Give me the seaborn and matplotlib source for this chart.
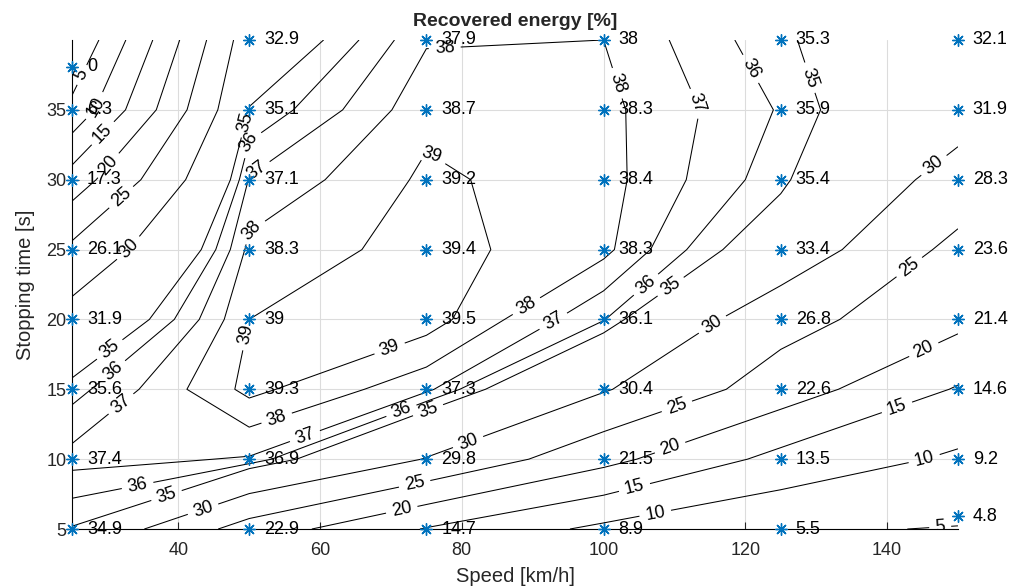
import numpy as np
import pandas as pd
import matplotlib
matplotlib.use("Agg")
import matplotlib.pyplot as plt
import seaborn as sns

# Grid of simulated cases
speeds = [25, 50, 75, 100, 125, 150]             # km/h
stop_times = [5, 10, 15, 20, 25, 30, 35, 40]      # s

# Recovered energy [%]; one row per stopping time, one column per speed
energy = [
    [34.9, 22.9, 14.7, 8.9, 5.5, 4.8],
    [37.4, 36.9, 29.8, 21.5, 13.5, 9.2],
    [35.6, 39.3, 37.3, 30.4, 22.6, 14.6],
    [31.9, 39.0, 39.5, 36.1, 26.8, 21.4],
    [26.1, 38.3, 39.4, 38.3, 33.4, 23.6],
    [17.3, 37.1, 39.2, 38.4, 35.4, 28.3],
    [6.3, 35.1, 38.7, 38.3, 35.9, 31.9],
    [0.0, 32.9, 37.9, 38.0, 35.3, 32.1],
]

# Actual stopping times reached at the two extreme corners of the grid
longest_stop_at_25 = 38.1
shortest_stop_at_150 = 5.9

levels = [5, 10, 15, 20, 25, 30, 35, 36, 37, 38, 39]
x_ticks = [40, 60, 80, 100, 120, 140]
y_ticks = [5, 10, 15, 20, 25, 30, 35]

# Where the isoline labels go (speed, stopping time)
label_spots = [
    (26.4, 37.5), (28.5, 35.2), (29.4, 33.3), (30.4, 30.9), (31.5, 29.0),
    (33.2, 25.0), (30.1, 18.0), (30.6, 16.4), (32.0, 13.9),
    (34.3, 8.0), (38.4, 7.3), (43.5, 6.4),
    (49.7, 34.1), (50.4, 32.6), (51.1, 30.6), (50.5, 26.3), (49.7, 18.9),
    (75.8, 31.8), (77.6, 39.3), (101.9, 36.9), (112.9, 35.4),
    (121.0, 38.0), (129.1, 37.3),
    (146.8, 30.9), (143.2, 23.7), (145.3, 17.7), (141.4, 13.7),
    (145.3, 9.9), (147.5, 5.1),
    (107.3, 6.1), (104.4, 7.9), (109.4, 10.8), (110.4, 13.7),
    (115.4, 19.6), (109.6, 22.25), (105.8, 22.6),
    (89.3, 20.8), (93.1, 19.7), (69.9, 17.8),
    (53.9, 12.9), (57.9, 11.6), (71.6, 13.3), (75.6, 13.0),
    (80.9, 11.2), (73.4, 8.1), (71.6, 6.2),
]

sns.set_theme(style="white")
plt.rcParams["font.family"] = ["Liberation Sans", "DejaVu Sans"]

# Long-form table of the simulated points
rows = []
for i, t in enumerate(stop_times):
    for j, v in enumerate(speeds):
        t_plot = t
        if v == speeds[0] and t == stop_times[-1]:
            t_plot = longest_stop_at_25
        if v == speeds[-1] and t == stop_times[0]:
            t_plot = shortest_stop_at_150
        rows.append({"speed": v, "time": t_plot, "energy": energy[i][j]})
df = pd.DataFrame(rows)

fig = plt.figure(figsize=(10.24, 5.88), dpi=100)
ax = fig.add_axes([0.0703, 0.1003, 0.8652, 0.8317])

ax.set_xlim(25, 150)
ax.set_ylim(5, 40)

X, Y = np.meshgrid(speeds, stop_times)
Z = np.array(energy)
# values lying exactly on a level count as inside the region
draw_levels = [lv - 1e-6 for lv in levels]
cs = ax.contour(X, Y, Z, levels=draw_levels, colors="black", linewidths=0.75)
ax.clabel(cs, inline=True, fmt=lambda v: f"{int(round(v))}", fontsize=13,
          inline_spacing=6, manual=label_spots)

sns.scatterplot(data=df, x="speed", y="time", ax=ax, marker=(8, 2, 0),
                s=70, color="#0072BD", linewidth=1.0, edgecolor="#0072BD",
                zorder=5, clip_on=False)

for _, r in df.iterrows():
    ax.text(r["speed"] + 2.1, r["time"], f"{r['energy']:g}", fontsize=13,
            ha="left", va="center", color="black", zorder=6, clip_on=False)

ax.set_xticks(x_ticks)
ax.set_yticks(y_ticks)
ax.grid(True, color="#dcdcdc", linewidth=0.8)
ax.set_axisbelow(True)
for side in ["top", "right"]:
    ax.spines[side].set_visible(False)
for side in ["left", "bottom"]:
    ax.spines[side].set_color("black")
    ax.spines[side].set_linewidth(0.8)
ax.tick_params(axis="both", direction="in", length=5, width=0.8,
               labelsize=13, colors="#262626", left=True, bottom=True)
ax.tick_params(axis="x", pad=9)
ax.tick_params(axis="y", pad=4)
ax.set_xlabel("Speed [km/h]", fontsize=14.5, color="#262626", labelpad=6)
ax.set_ylabel("Stopping time [s]", fontsize=14.5, color="#262626", labelpad=8)
ax.set_title("Recovered energy [%]", fontsize=14, fontweight="bold", pad=10)

fig.savefig("out.png", dpi=100)
